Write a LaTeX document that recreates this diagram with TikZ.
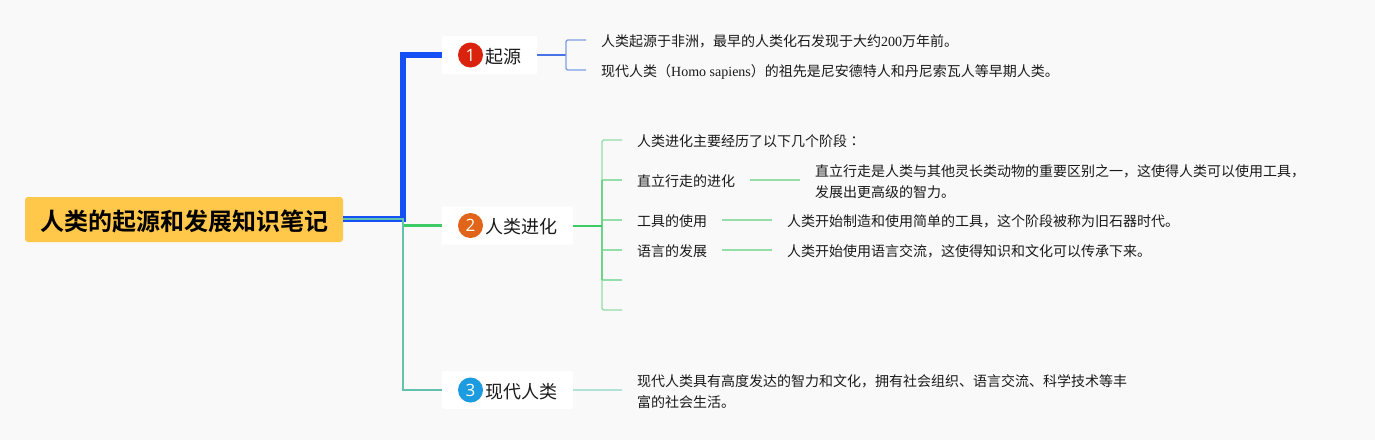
\documentclass[tikz,border=0pt]{standalone}
\usepackage{fontspec}
\setmainfont{Liberation Serif}
\newfontfamily\cjk{Noto Sans CJK SC}
\newfontfamily\cjktc{Noto Sans CJK TC}
\newfontfamily\cjkbold{Noto Sans CJK SC Bold}
\newfontfamily\numfont{Open Sans}
\newcommand{\lat}[1]{{\rmfamily #1}}
\definecolor{bgc}{HTML}{F9F9FA}
\definecolor{rootc}{HTML}{FFC84A}
\definecolor{bluemain}{HTML}{1450F5}
\definecolor{greenmain}{HTML}{3CCB64}
\definecolor{greenmid}{HTML}{6DD48A}
\definecolor{tealmain}{HTML}{62C2AE}
\definecolor{bluesub}{HTML}{4A72E8}
\definecolor{bluelite}{HTML}{7F9EE6}
\definecolor{greenlite}{HTML}{95DDA9}
\definecolor{teallite}{HTML}{B2E2D6}
\definecolor{inkc}{HTML}{1A1A1A}
\tikzset{
  rootbox/.style={fill=rootc,rounded corners=3pt,inner sep=0pt,minimum height=45pt,minimum width=318pt,font=\cjkbold\fontsize{24}{28}\selectfont,text=black},
  topicbox/.style={fill=white,rounded corners=1pt,inner sep=0pt,minimum height=38pt},
  badge/.style={circle,inner sep=0pt,minimum size=25pt,text=white!92!yellow,font=\numfont\fontsize{17}{17}\selectfont},
  topictext/.style={inner sep=0pt,anchor=west,text=inkc,font=\cjk\fontsize{18}{22}\selectfont},
  leaf/.style={inner sep=0pt,anchor=west,align=left,text=inkc,font=\cjk\fontsize{14}{21}\selectfont},
  conn/.style={line width=1.4pt,line join=round},
}
\begin{document}
\begin{tikzpicture}[x=1pt,y=-1pt]
\useasboundingbox (0,0) rectangle (1375,440);
\fill[bgc] (0,0) rectangle (1375,440);
% root and topics
\node[rootbox] (root) at (184,219.5) {\raisebox{-11pt}[0pt][0pt]{人类的起源和发展知识笔记}};
\node[topicbox,minimum width=95pt] (t1) at (489.5,55) {};
\node[topicbox,minimum width=131pt] (t2) at (507.5,225.5) {};
\node[topicbox,minimum width=131pt] (t3) at (507.5,390) {};
\node[badge,fill={rgb,255:red,217;green,35;blue,15}] (b1) at (470.5,55) {1};
\node[badge,fill={rgb,255:red,224;green,100;blue,26}] (b2) at (470.5,225.5) {2};
\node[badge,fill={rgb,255:red,28;green,155;blue,224}] (b3) at (470.5,390) {3};
\node[topictext] (l1) at (485,56.5) {起源};
\node[topictext] (l2) at (485,226.5) {人类进化};
\node[topictext] (l3) at (485,391.5) {现代人类};
% leaves
\node[leaf] (a1) at (601,41.5) {人类起源于非洲，最早的人类化石发现于大约\lat{200}万年前。};
\node[leaf] (a2) at (601,71.5) {现代人类（\lat{Homo sapiens}）的祖先是尼安德特人和丹尼索瓦人等早期人类。};
\node[leaf] (c1) at (637,141.5) {人类进化主要经历了以下几个阶段{\cjktc ：}};
\node[leaf] (c2) at (637,181.5) {直立行走的进化};
\node[leaf] (c3) at (637,221.5) {工具的使用};
\node[leaf] (c4) at (637,251.5) {语言的发展};
\node[leaf] (d2) at (815,181.5) {直立行走是人类与其他灵长类动物的重要区别之一，这使得人类可以使用工具，\\发展出更高级的智力。};
\node[leaf] (d3) at (787,221.5) {人类开始制造和使用简单的工具，这个阶段被称为旧石器时代。};
\node[leaf] (d4) at (787,251.5) {人类开始使用语言交流，这使得知识和文化可以传承下来。};
\node[leaf] (e1) at (637,391.5) {现代人类具有高度发达的智力和文化，拥有社会组织、语言交流、科学技术等丰\\富的社会生活。};
% junction coordinates
\coordinate (rootout) at (343,219);
\coordinate (j1) at (403,219);
\coordinate (k1) at (403,55);
\coordinate (k2) at (403,225.5);
\coordinate (k3) at (403,390);
\coordinate (s1) at (566,55);
\coordinate (s1a) at (566,40);
\coordinate (s1b) at (566,70);
\coordinate (u1) at (586,40);
\coordinate (u2) at (586,70);
\coordinate (s2) at (602,225.5);
\coordinate (s2a) at (602,140);
\coordinate (s2b) at (602,310);
\coordinate (v1) at (622,140);
\coordinate (v2) at (622,180);
\coordinate (v3) at (622,220);
\coordinate (v4) at (622,250);
\coordinate (v5) at (622,280);
\coordinate (v6) at (622,310);
\coordinate (w2a) at (750,180);
\coordinate (w2b) at (800,180);
\coordinate (w3a) at (722,220);
\coordinate (w3b) at (772,220);
\coordinate (w4a) at (722,250);
\coordinate (w4b) at (772,250);
\coordinate (w5b) at (622,390);
% main branches
\draw[bluemain,line width=6pt,line join=miter] (rootout) -- (j1) -- (k1) -- (t1.west);
\draw[greenmain,line width=2.4pt] (k2) -- (t2.west);
\draw[tealmain,line width=2pt] (rootout) -- (j1) -- (k3) -- (t3.west);
% branch 1
\draw[bluesub,conn,line width=2pt] (t1.east) -- (s1);
\draw[bluelite,conn,rounded corners=2pt] (u1) -- (s1a) -- (s1b) -- (u2);
% branch 2
\draw[greenlite,conn,rounded corners=2pt] (v1) -- (s2a) -- (s2b) -- (v6);
\foreach \p in {v2,v3,v4,v5} \draw[greenlite,conn] (\p) -- (\p -| s2);
\draw[greenmid,line width=1.4pt] (s2 |- v2) -- (s2 |- v5);
\draw[greenmain,line width=2pt] (t2.east) -- (s2);
\draw[greenlite,conn] (w2a) -- (w2b);
\draw[greenlite,conn] (w3a) -- (w3b);
\draw[greenlite,conn] (w4a) -- (w4b);
% branch 3
\draw[teallite,line width=2pt] (t3.east) -- (w5b);
\end{tikzpicture}
\end{document}
